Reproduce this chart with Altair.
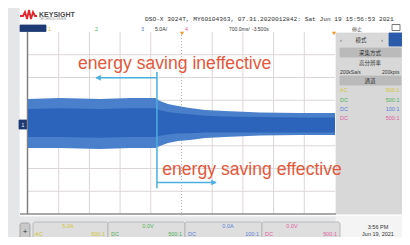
import altair as alt
import pandas as pd

# ---------------- waveform envelope (time in s, amplitude in divisions) ----------------
t_s      = [-7.00, -6.27, -5.36, -4.67, -4.10, -3.99, -3.81, -3.58, -3.31, -2.96, -2.51, -1.71, -0.80, 0.00]
env_top  = [1.05, 1.10, 1.05, 1.10, 1.10, 0.97, 0.84, 0.75, 0.66, 0.57, 0.53, 0.46, 0.44, 0.44]
env_bot  = [-1.10, -1.10, -1.14, -1.10, -1.10, -1.01, -0.88, -0.79, -0.75, -0.66, -0.62, -0.55, -0.53, -0.53]
core_top = [0.62, 0.65, 0.62, 0.65, 0.65, 0.56, 0.48, 0.43, 0.38, 0.32, 0.29, 0.26, 0.24, 0.24]
core_bot = [-0.62, -0.62, -0.65, -0.62, -0.62, -0.56, -0.50, -0.46, -0.45, -0.42, -0.42, -0.42, -0.42, -0.42]

# grid divisions (700 ms/div, 10 div; 8 vertical div)
x_grid = [-6.3, -5.6, -4.9, -4.2, -2.8, -2.1, -1.4, -0.7]
y_grid = [-3, -2, -1, 1, 2, 3]

# annotations
ann_text = ["energy saving ineffective", "energy saving effective"]
ann_t = [-5.86, -3.94]
ann_a = [2.37, -2.29]
marker_t = -4.06
marker_a = [2.24, -2.87]
arrow_end_t = [-5.45, -2.71]
arrow_a = [1.99, -2.61]
head_t = [-5.40, -2.76]
head_shape = ["triangle-left", "triangle-right"]

# ---------------- scales ----------------
XS = alt.Scale(domain=[-7, 0], range=[20, 327], nice=False, zero=False)
YS = alt.Scale(domain=[-4, 4], range=[206, 24], nice=False, zero=False)
PX = alt.Scale(domain=[8, 402], range=[0, 394], nice=False, zero=False)
PY = alt.Scale(domain=[8, 237], range=[0, 229], nice=False, zero=False)

Y = "#d2c436"; G = "#4fb35a"; B = "#5b7fd6"; P = "#e0609e"

def X(f, s): return alt.X(f, scale=s, axis=None)
def Yy(f, s): return alt.Y(f, scale=s, axis=None)

layers = []

# ---- chrome rectangles (page coords) ----
rect_rows = [
    (20, 410, 8, 216, "#ffffff", "#ffffff"),
    (336, 410, 216, 245, "#f4f4f4", "#f4f4f4"),
    (336, 410, 33, 214, "#d8d8d8", "#d8d8d8"),
    (20, 46, 25, 31.5, "#1d3a74", "#1d3a74"),
    (389, 410, 33, 46, "#2d5bab", "#2d5bab"),
    (340, 401, 48, 57, "#bababa", "#bababa"),
    (340, 401, 76, 85, "#bababa", "#bababa"),
    (19, 27, 120, 129, "#1d3a74", "#1d3a74"),
    (392, 400, 24.5, 30.5, "#ffffff", "#555555"),
]
rdf = pd.DataFrame(rect_rows, columns=["x", "x2", "y", "y2", "fill", "stroke"])
layers.append(alt.Chart(rdf).mark_rect(strokeWidth=0.8).encode(
    x=X("x:Q", PX), x2="x2:Q", y=Yy("y:Q", PY), y2="y2:Q",
    fill=alt.Fill("fill:N", scale=None), stroke=alt.Stroke("stroke:N", scale=None)))

box_rows = [
    (20, 30, 223, 240, "#c9c9c9", "#9a9a9a"),
    (33, 108, 222, 241, "#dedede", "#b0b0b0"),
    (108, 185, 222, 241, "#dedede", "#b0b0b0"),
    (185, 262, 222, 241, "#dedede", "#b0b0b0"),
    (262, 340, 222, 241, "#dedede", "#b0b0b0"),
]
bdf = pd.DataFrame(box_rows, columns=["x", "x2", "y", "y2", "fill", "stroke"])
layers.append(alt.Chart(bdf).mark_rect(strokeWidth=0.8, cornerRadius=2).encode(
    x=X("x:Q", PX), x2="x2:Q", y=Yy("y:Q", PY), y2="y2:Q",
    fill=alt.Fill("fill:N", scale=None), stroke=alt.Stroke("stroke:N", scale=None)))

# ---- grid ----
layers.append(alt.Chart(pd.DataFrame({"t": x_grid})).mark_rule(color="#ddd6d6", strokeWidth=1).encode(
    x=X("t:Q", XS), y=alt.value(24), y2=alt.value(206)))
layers.append(alt.Chart(pd.DataFrame({"a": y_grid})).mark_rule(color="#ddd6d6", strokeWidth=1).encode(
    y=Yy("a:Q", YS), x=alt.value(20), x2=alt.value(327)))
layers.append(alt.Chart(pd.DataFrame({"t": [-3.5]})).mark_rule(color="#bdb5b5", strokeWidth=1, strokeDash=[1, 2]).encode(
    x=X("t:Q", XS), y=alt.value(24), y2=alt.value(206)))
layers.append(alt.Chart(pd.DataFrame({"a": [0]})).mark_rule(color="#bdb5b5", strokeWidth=1, strokeDash=[1, 2]).encode(
    y=Yy("a:Q", YS), x=alt.value(20), x2=alt.value(327)))

# ---- plot borders ----
layers.append(alt.Chart(pd.DataFrame({"x": [27.5], "y": [32], "y2": [214]})).mark_rule(color="#808080", strokeWidth=1.5).encode(
    x=X("x:Q", PX), y=Yy("y:Q", PY), y2="y2:Q"))
layers.append(alt.Chart(pd.DataFrame({"x": [20], "x2": [336], "y": [214]})).mark_rule(color="#8c8c8c", strokeWidth=1.5).encode(
    x=X("x:Q", PX), x2="x2:Q", y=Yy("y:Q", PY)))

# ---- waveform ----
wdf = pd.DataFrame({"t": t_s, "top": env_top, "bot": env_bot, "ctop": core_top, "cbot": core_bot})
layers.append(alt.Chart(wdf).mark_area(color="#4a80cb").encode(
    x=X("t:Q", XS), y=Yy("top:Q", YS), y2="bot:Q"))
layers.append(alt.Chart(wdf).mark_area(color="#2b64ba").encode(
    x=X("t:Q", XS), y=Yy("ctop:Q", YS), y2="cbot:Q"))

# ---- markers / arrows ----
layers.append(alt.Chart(pd.DataFrame({"t": [marker_t], "a1": [marker_a[0]], "a2": [marker_a[1]]})).mark_rule(
    color="#4aaee0", strokeWidth=1.5).encode(x=X("t:Q", XS), y=Yy("a1:Q", YS), y2="a2:Q"))
layers.append(alt.Chart(pd.DataFrame({"t1": [marker_t, marker_t], "t2": arrow_end_t, "a": arrow_a})).mark_rule(
    color="#4aaee0", strokeWidth=1.5).encode(x=X("t1:Q", XS), x2="t2:Q", y=Yy("a:Q", YS)))
layers.append(alt.Chart(pd.DataFrame({"t": head_t, "a": arrow_a, "shape": head_shape})).mark_point(
    filled=True, opacity=1, color="#4aaee0", size=35).encode(
    x=X("t:Q", XS), y=Yy("a:Q", YS), shape=alt.Shape("shape:N", scale=None)))

layers.append(alt.Chart(pd.DataFrame({"t": ann_t, "a": ann_a, "text": ann_text})).mark_text(
    align="left", baseline="alphabetic", font="Liberation Sans", fontSize=17.6, color="#e5573a").encode(
    x=X("t:Q", XS), y=Yy("a:Q", YS), text="text:N"))

# ---- trigger markers ----
layers.append(alt.Chart(pd.DataFrame({"x": [182, 334], "y": [33.5, 33.5]})).mark_point(
    shape="triangle-down", filled=True, opacity=1, color="#f0a030", size=18).encode(
    x=X("x:Q", PX), y=Yy("y:Q", PY)))

# ---- logo ----
logo_x = [20, 23, 25, 27, 29, 31, 33, 35, 37]
logo_y = [16, 16, 12, 19, 10, 19, 12, 16, 16]
layers.append(alt.Chart(pd.DataFrame({"x": logo_x, "y": logo_y, "i": list(range(len(logo_x)))})).mark_line(
    color="#e0282e", strokeWidth=1.8).encode(x=X("x:Q", PX), y=Yy("y:Q", PY), order="i:O"))

# ---- texts ----
def texts(rows, align, font="Liberation Sans", weight="normal"):
    df = pd.DataFrame(rows, columns=["x", "y", "text", "color", "size"])
    return alt.Chart(df).mark_text(align=align, baseline="alphabetic", font=font, fontWeight=weight).encode(
        x=X("x:Q", PX), y=Yy("y:Q", PY), text="text:N",
        color=alt.Color("color:N", scale=None), size=alt.Size("size:Q", scale=None))

layers.append(texts([(39, 16.5, "KEYSIGHT", "#4a4a4a", 7)], "left", weight="bold"))
layers.append(texts([(145, 21, "DSO-X 3024T, MY60104363, 07.31.2020012842: Sat Jun 19 15:56:53 2021", "#333333", 6.2)],
                    "left", font="Liberation Mono"))

left_rows = [
    (39, 19.6, "TECHNOLOGIES", "#8a8a8a", 3.4),
    (48, 30.5, "1", Y, 5.5), (95, 30.5, "2", G, 5.5), (141, 30.5, "3", B, 5.5),
    (155, 30.5, "5.0A/", "#333333", 5.2), (185, 30.5, "4", P, 5.5),
    (229, 30.5, "700.0ms/", "#333333", 5), (252, 30.5, "-3.500s", "#333333", 5),
    (340, 42, "‹", "#555555", 6),
    (340, 74, "200kSa/s", "#333333", 5),
    (340, 92, "AC", Y, 5.5), (340, 101.5, "DC", G, 5.5), (340, 110.5, "DC", B, 5.5), (340, 119.5, "DC", P, 5.5),
    (35, 236, "AC", Y, 5.5), (111, 236, "DC", G, 5.5), (188, 236, "DC", B, 5.5), (265, 236, "DC", P, 5.5),
]
layers.append(texts(left_rows, "left"))

right_rows = [
    (383, 42, "›", "#555555", 6),
    (399.5, 74, "200kpts", "#333333", 5),
    (399.5, 92, "500:1", Y, 5.5), (399.5, 101.5, "500:1", G, 5.5), (399.5, 110.5, "100:1", B, 5.5), (399.5, 119.5, "500:1", P, 5.5),
    (105, 236, "500:1", Y, 5.5), (182, 236, "500:1", G, 5.5), (259, 236, "100:1", B, 5.5), (337, 236, "500:1", P, 5.5),
]
layers.append(texts(right_rows, "right"))

center_rows = [
    (68, 228, "5.0A", Y, 5.5), (148, 228, "0.0V", G, 5.5), (228, 228, "0.0A", B, 5.5), (292, 228, "0.0V", P, 5.5),
    (378, 228.5, "3:56 PM", "#333333", 5.5), (378, 236, "Jun 19, 2021", "#333333", 5.5),
    (25, 234, "+", "#333333", 8), (23, 126.8, "1", "#ffffff", 5),
]
layers.append(texts(center_rows, "center"))

cjk_rows = [
    (361, 42, "模式", "#333333", 5.5),
    (370, 55, "采集方式", "#333333", 5.5),
    (370, 64.5, "高分辨率", "#333333", 5.5),
    (370, 83, "通道", "#333333", 5.5),
    (357, 30.5, "停止", "#333333", 5),
]
layers.append(texts(cjk_rows, "center", font="Noto Sans CJK SC"))

chart = alt.layer(*layers).resolve_scale(x="independent", y="independent").properties(
    width=394, height=229, background="#e5e6e8", padding=0,
    autosize=alt.AutoSizeParams(type="none")
).configure_view(stroke=None)

chart.save("out.html", embed_options={"renderer": "svg", "actions": False})
